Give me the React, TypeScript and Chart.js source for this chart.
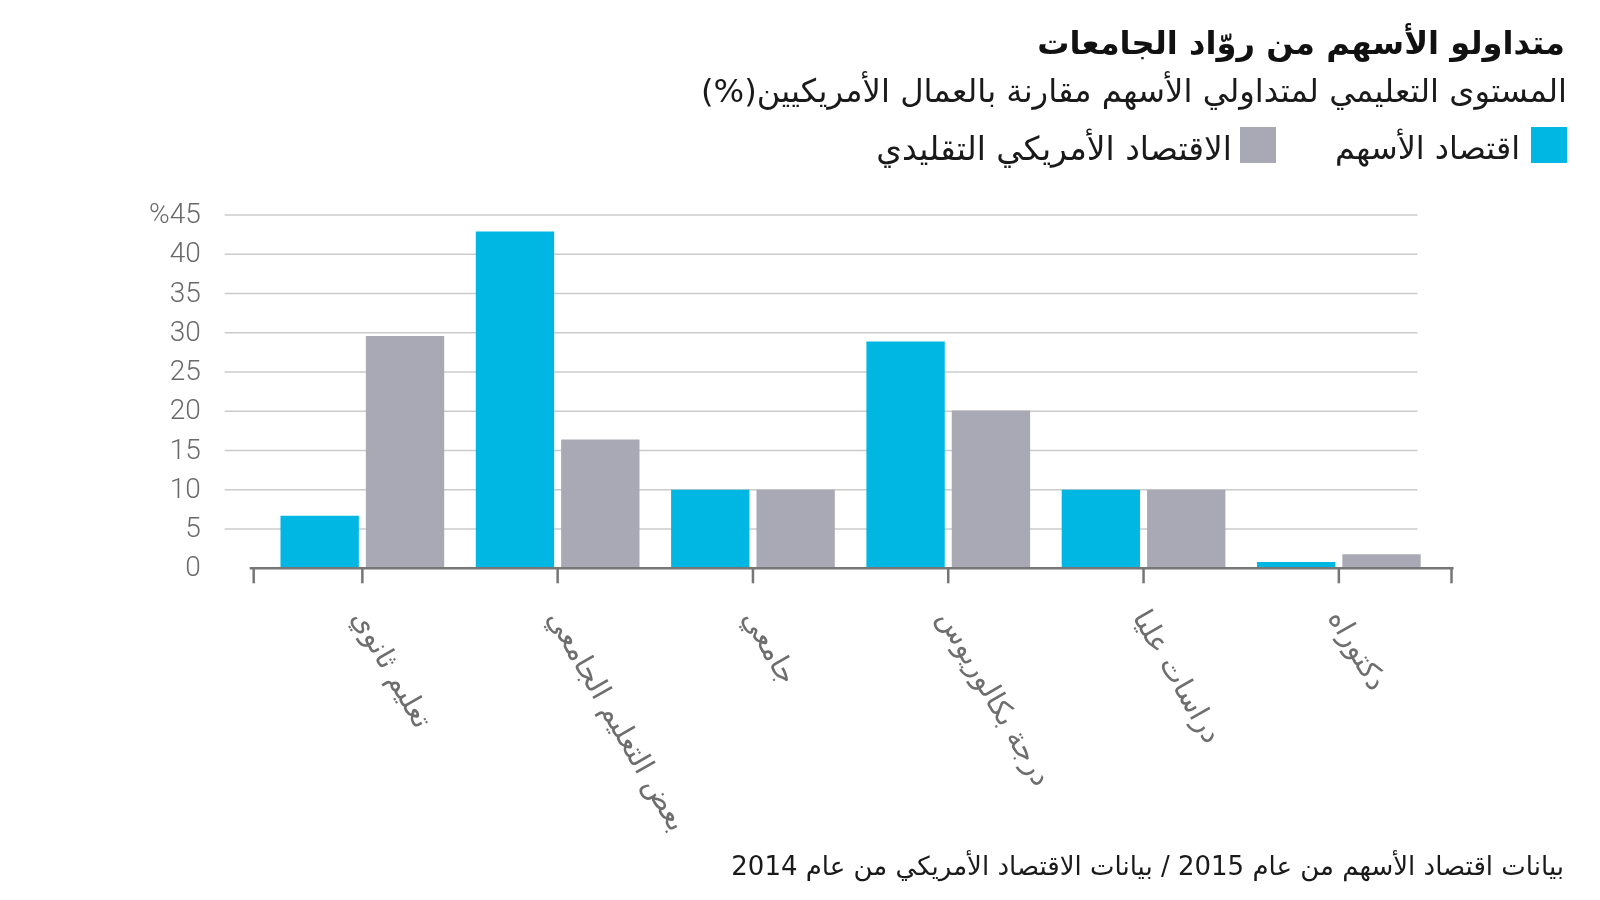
import React, { useEffect, useRef } from "react";
import { Chart, registerables } from "chart.js";

Chart.register(...registerables);

// ---- Data ----
const categories = [
  "تعليم ثانوي",
  "بعض التعليم الجامعي",
  "جامعي",
  "درجة بكالوريوس",
  "دراسات عليا",
  "دكتوراه",
];
const stockEconomy = [6.7, 42.9, 10, 28.9, 10, 0.8];
const traditionalEconomy = [29.6, 16.4, 10, 20.1, 10, 1.8];
const seriesNames = ["اقتصاد الأسهم", "الاقتصاد الأمريكي التقليدي"];
const yTicks = [0, 5, 10, 15, 20, 25, 30, 35, 40, 45];
const yTickLabels = ["0", "5", "10", "15", "20", "25", "30", "35", "40", "%45"];
const titleText = "متداولو الأسهم من روّاد الجامعات";
const subtitleText = "المستوى التعليمي لمتداولي الأسهم مقارنة بالعمال الأمريكيين(%)";
const footerText = "بيانات اقتصاد الأسهم من عام 2015 / بيانات الاقتصاد الأمريكي من عام 2014";

// ---- Styles ----
const BLUE = "#00b6e3";
const GRAY = "#a9a9b5";
const AR = '"DejaVu Sans", "Noto Sans", sans-serif';
const NUM = 'Roboto, "Liberation Sans", sans-serif';

function fitSize(ctx: CanvasRenderingContext2D, text: string, weight: string, family: string, target: number) {
  ctx.save();
  ctx.font = `${weight} 100px ${family}`;
  const w = ctx.measureText(text).width;
  ctx.restore();
  return (100 * target) / w;
}

function rtlText(
  ctx: CanvasRenderingContext2D,
  text: string,
  x: number,
  y: number,
  weight: string,
  size: number,
  color: string
) {
  ctx.save();
  ctx.direction = "rtl";
  ctx.textAlign = "right";
  ctx.textBaseline = "middle";
  ctx.font = `${weight} ${size}px ${AR}`;
  ctx.fillStyle = color;
  ctx.fillText(text, x, y);
  ctx.restore();
}

const decorPlugin = {
  id: "decor",
  beforeDatasetsDraw(chart: any) {
    const { ctx, chartArea, scales } = chart;
    const y = scales.y;
    ctx.save();
    ctx.strokeStyle = "#cbcbcb";
    ctx.lineWidth = 1.6;
    yTicks.forEach((v) => {
      if (v === 0) return;
      const py = y.getPixelForValue(v);
      ctx.beginPath();
      ctx.moveTo(chartArea.left - 40, py);
      ctx.lineTo(chartArea.right - 19, py);
      ctx.stroke();
    });
    ctx.restore();
  },
  afterDatasetsDraw(chart: any) {
    const { ctx, chartArea, scales, data } = chart;
    const x = scales.x;
    const y = scales.y;
    const y0 = y.getPixelForValue(0);

    // axis line and ticks
    ctx.save();
    ctx.strokeStyle = "#767676";
    ctx.lineWidth = 2.5;
    const axL = chartArea.left - 11;
    const axR = chartArea.right + 15;
    ctx.beginPath();
    ctx.moveTo(axL - 4, y0);
    ctx.lineTo(axR + 2, y0);
    ctx.stroke();
    const tickXs = [axL, ...data.labels.map((_: any, i: number) => x.getPixelForValue(i)), axR];
    tickXs.forEach((tx: number) => {
      ctx.beginPath();
      ctx.moveTo(tx, y0);
      ctx.lineTo(tx, y0 + 15);
      ctx.stroke();
    });
    ctx.restore();

    // y tick labels
    ctx.save();
    ctx.font = `300 28px ${NUM}`;
    ctx.fillStyle = "#6a6a6a";
    ctx.textAlign = "right";
    ctx.textBaseline = "middle";
    yTicks.forEach((v, i) => {
      ctx.fillText(yTickLabels[i], chartArea.left - 64, y.getPixelForValue(v) + 1);
    });
    ctx.restore();

    // x labels (rotated)
    const longest = categories[1];
    const xs = fitSize(ctx, longest, "normal", AR, 250);
    ctx.save();
    ctx.font = `normal ${xs}px ${AR}`;
    ctx.fillStyle = "#6e6e6e";
    data.labels.forEach((lab: string, i: number) => {
      const tx = x.getPixelForValue(i);
      ctx.save();
      ctx.translate(tx - 5, y0 + 45);
      ctx.rotate((60 * Math.PI) / 180);
      ctx.direction = "rtl";
      ctx.textAlign = "left";
      ctx.textBaseline = "middle";
      ctx.fillText(lab, 0, 0);
      ctx.restore();
    });
    ctx.restore();

    // title, subtitle
    const right = 1565;
    rtlText(ctx, titleText, right, 46, "bold", fitSize(ctx, titleText, "bold", AR, 528), "#111111");
    rtlText(ctx, subtitleText, right + 2, 94, "normal", fitSize(ctx, subtitleText, "normal", AR, 866), "#1a1a1a");

    // legend
    const ds = data.datasets;
    const legendSlots = [
      { box: 1531, text: 1520, w: 185 },
      { box: 1240, text: 1232, w: 356 },
    ];
    ds.forEach((d: any, i: number) => {
      const s = legendSlots[i];
      ctx.save();
      ctx.fillStyle = d.backgroundColor;
      ctx.fillRect(s.box, 127, 36, 36);
      ctx.restore();
      rtlText(ctx, d.label, s.text, 151, "normal", fitSize(ctx, d.label, "normal", AR, s.w), "#1a1a1a");
    });

    // footer
    rtlText(ctx, footerText, 1564, 868, "normal", fitSize(ctx, footerText, "normal", AR, 833), "#1a1a1a");
  },
};

export default function App() {
  const ref = useRef<HTMLCanvasElement | null>(null);

  useEffect(() => {
    if (!ref.current) return;
    const chart = new Chart(ref.current, {
      type: "bar",
      data: {
        labels: categories,
        datasets: [
          {
            label: seriesNames[0],
            data: stockEconomy,
            backgroundColor: BLUE,
            borderWidth: 0,
          },
          {
            label: seriesNames[1],
            data: traditionalEconomy,
            backgroundColor: GRAY,
            borderWidth: 0,
          },
        ],
      },
      options: {
        responsive: false,
        animation: false,
        devicePixelRatio: 1,
        layout: { padding: { left: 264.7, right: 163.5, top: 215, bottom: 331.7 } },
        datasets: { bar: { categoryPercentage: 0.874, barPercentage: 0.918 } },
        plugins: {
          legend: { display: false },
          title: { display: false },
          tooltip: { enabled: false },
        },
        scales: {
          x: { display: false, offset: true, grid: { display: false } },
          y: { display: false, min: 0, max: 45 },
        },
      },
      plugins: [decorPlugin],
    } as any);
    return () => chart.destroy();
  }, []);

  return (
    <div style={{ position: "fixed", left: 0, top: 0, width: 1600, height: 900, background: "#fff" }}>
      <canvas ref={ref} width={1600} height={900} style={{ display: "block", width: 1600, height: 900 }} />
    </div>
  );
}
